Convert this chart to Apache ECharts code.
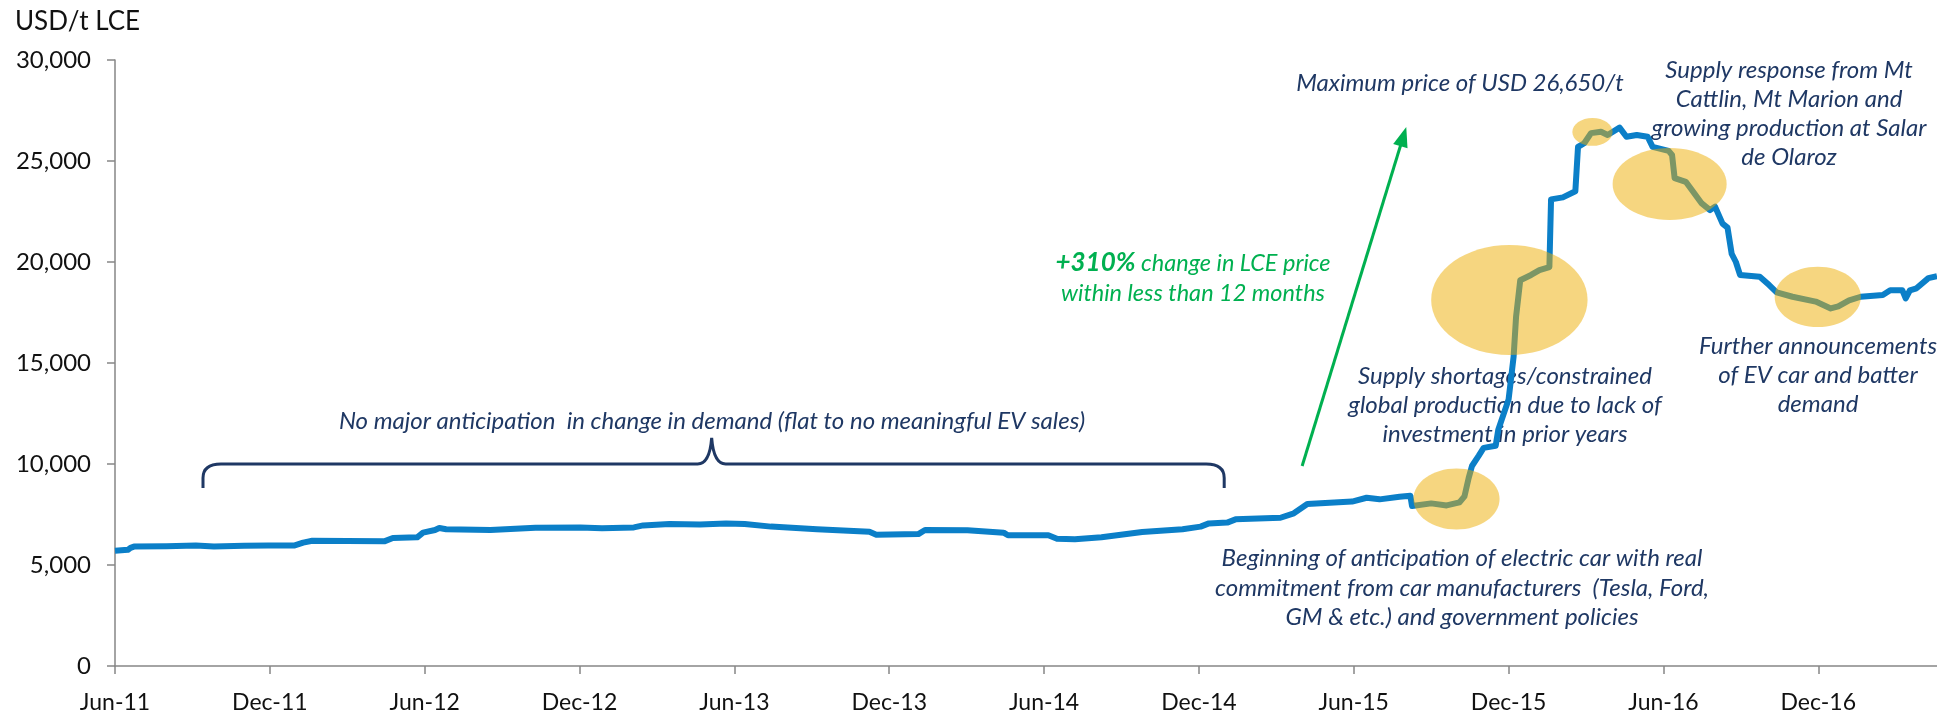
<!DOCTYPE html>
<html>
<head>
<meta charset="utf-8">
<script src="https://cdn.jsdelivr.net/npm/echarts@6/dist/echarts.min.js"></script>
<style>
html,body{margin:0;padding:0;background:#fff;}
#chart{width:1937px;height:711px;}
</style>
</head>
<body>
<div id="chart"></div>
<script>
// ---- Data ----
const dates = [
  '2011-06-01','2011-06-16','2011-06-19','2011-06-23','2011-08-01','2011-09-05','2011-09-26','2011-11-01','2011-11-29','2011-12-30',
  '2012-01-10','2012-01-21','2012-03-01','2012-04-14','2012-04-24','2012-05-23','2012-05-30','2012-06-13','2012-06-18','2012-06-26',
  '2012-08-18','2012-10-10','2012-12-02','2012-12-28','2013-02-04','2013-02-14','2013-03-16','2013-04-21','2013-05-22','2013-06-13',
  '2013-07-14','2013-09-07','2013-11-08','2013-11-16','2014-01-05','2014-01-13','2014-03-02','2014-04-14','2014-04-19','2014-06-06',
  '2014-06-16','2014-07-07','2014-08-08','2014-09-25','2014-11-12','2014-12-03','2014-12-13','2015-01-04','2015-01-14','2015-03-06',
  '2015-03-22','2015-04-07','2015-05-30','2015-06-16','2015-07-01','2015-07-25','2015-08-07','2015-08-09','2015-09-01','2015-09-19',
  '2015-10-04','2015-10-10','2015-10-15','2015-10-19','2015-10-27','2015-11-02','2015-11-16','2015-11-19','2015-12-01','2015-12-07',
  '2015-12-10','2015-12-15','2015-12-28','2016-01-07','2016-01-19','2016-01-21','2016-02-04','2016-02-18','2016-02-21','2016-02-28',
  '2016-03-07','2016-03-19','2016-03-27','2016-04-10','2016-04-18','2016-04-30','2016-05-13','2016-05-19','2016-06-07','2016-06-11',
  '2016-06-14','2016-06-27','2016-07-07','2016-07-16','2016-07-26','2016-08-01','2016-08-10','2016-08-16','2016-08-21','2016-08-26',
  '2016-08-31','2016-09-23','2016-10-04','2016-10-13','2016-11-01','2016-11-28','2016-12-16','2016-12-25','2017-01-07','2017-01-21',
  '2017-02-15','2017-02-23','2017-03-09','2017-03-13','2017-03-18','2017-03-26','2017-04-09','2017-04-19'
];
const prices = [
  5700,5750,5850,5910,5930,5970,5920,5950,5960,5960,
  6110,6200,6190,6170,6340,6370,6600,6730,6830,6770,
  6730,6850,6860,6820,6860,6960,7030,7000,7060,7030,
  6900,6770,6650,6500,6530,6730,6720,6600,6470,6470,
  6300,6270,6370,6630,6770,6900,7060,7100,7260,7340,
  7560,8020,8140,8330,8250,8380,8430,7920,8050,7950,
  8100,8400,9300,9900,10400,10800,10900,11700,13200,15300,
  17300,19100,19360,19600,19750,23100,23200,23500,25700,25880,
  26380,26450,26290,26650,26200,26290,26200,25700,25500,25300,
  24150,23970,23400,22900,22570,22740,21900,21700,20400,20000,
  19360,19270,18860,18500,18280,18040,17700,17800,18100,18280,
  18370,18600,18600,18200,18600,18700,19200,19300
];
const xTickLabels = ['Jun-11','Dec-11','Jun-12','Dec-12','Jun-13','Dec-13','Jun-14','Dec-14','Jun-15','Dec-15','Jun-16','Dec-16'];
const yTicks = [0,5000,10000,15000,20000,25000,30000];

// ---- helpers ----
function toMonths(s){
  const p = s.split('-').map(Number);
  const dim = new Date(p[0], p[1], 0).getDate();
  return (p[0]-2011)*12 + (p[1]-6) + (p[2]-1)/dim;
}
const lineData = dates.map((d,i)=>[toMonths(d), prices[i]]);

// highlight ellipses: [centreMonth, centreValue, radiusMonths, radiusValue]
const highlights = [
  [51.98, 8270, 1.67, 1510],
  [54.03, 18120, 3.03, 2720],
  [57.25, 26440, 0.78, 690],
  [60.24, 23860, 2.21, 1780],
  [65.98, 18270, 1.67, 1490]
];

const NAVY = '#1F3864';
const GREEN = '#00B050';
const FONT = 'Lato';
const ANN = `italic 24px ${FONT}`;

const chart = echarts.init(document.getElementById('chart'), null, {renderer:'canvas'});
const option = {
  backgroundColor:'#fff',
  animation:false,
  grid:{left:115, right:0, top:60, bottom:45, containLabel:false, outerBoundsMode:'none'},
  xAxis:{
    type:'value', min:0, max:70.6, interval:6,
    splitLine:{show:false},
    axisLine:{show:true, lineStyle:{color:'#868686', width:1.5}},
    axisTick:{show:true, length:8, lineStyle:{color:'#868686', width:1.5}},
    axisLabel:{
      margin:25, color:'#111', fontFamily:FONT, fontSize:23, showMaxLabel:false,
      formatter:v=>{const i=Math.round(v/6); return (Math.abs(v-i*6)<1e-6 && xTickLabels[i])?xTickLabels[i]:'';}
    }
  },
  yAxis:{
    type:'value', min:yTicks[0], max:yTicks[yTicks.length-1], interval:yTicks[1]-yTicks[0],
    splitLine:{show:false},
    axisLine:{show:true, lineStyle:{color:'#868686', width:1.5}},
    axisTick:{show:true, length:8, lineStyle:{color:'#868686', width:1.5}},
    axisLabel:{margin:24, color:'#111', fontFamily:FONT, fontSize:24,
      formatter:v=>v.toLocaleString('en-US')}
  },
  series:[
    {
      type:'line', data:lineData, showSymbol:false, z:2,
      lineStyle:{color:'#0B7FC8', width:6, join:'round'},
      markLine:{
        silent:true, symbol:['none','triangle'], symbolSize:[15,20],
        lineStyle:{color:GREEN, width:3, type:'solid'},
        label:{show:false},
        data:[[{coord:[46.0, 9900]},{coord:[49.92, 26210]}]]
      }
    },
    {
      type:'custom', z:5, data:highlights, encode:{x:0,y:1},
      renderItem:(params, api)=>{
        const c = api.coord([api.value(0), api.value(1)]);
        const s = api.size([api.value(2), api.value(3)]);
        return {type:'ellipse', shape:{cx:c[0], cy:c[1], rx:s[0], ry:s[1]},
          style:{fill:'rgba(237,173,1,0.5)'}};
      }
    },
    {
      type:'custom', z:4, data:[[3.41, 23.12, 42.98]], encode:{x:0},
      renderItem:(params, api)=>{
        const L = api.coord([api.value(0), 10000]);
        const M = api.coord([api.value(1), 10000]);
        const R = api.coord([api.value(2), 10000]);
        const endY = api.coord([api.value(0), 8810])[1];
        const pkY = api.coord([api.value(1), 11290])[1];
        const d = `M${L[0]},${endY} L${L[0]},${L[1]+14} Q${L[0]},${L[1]} ${L[0]+18},${L[1]} `+
          `L${M[0]-14},${M[1]} Q${M[0]-2},${M[1]} ${M[0]},${pkY} Q${M[0]+2},${M[1]} ${M[0]+14},${M[1]} `+
          `L${R[0]-18},${R[1]} Q${R[0]},${R[1]} ${R[0]},${R[1]+14} L${R[0]},${endY}`;
        return {type:'path', shape:{pathData:d}, style:{fill:'none', stroke:NAVY, lineWidth:3}};
      }
    }
  ],
  graphic:[
    {type:'text', x:15, y:22, style:{text:'USD/t LCE', font:`26px ${FONT}`, fill:'#111', verticalAlign:'middle'}},
    {type:'text', x:712, y:421, style:{text:'No major anticipation  in change in demand (flat to no meaningful EV sales)',
      font:ANN, fill:NAVY, align:'center', verticalAlign:'middle'}},
    {type:'text', x:1460, y:83, style:{text:'Maximum price of USD 26,650/t',
      font:ANN, fill:NAVY, align:'center', verticalAlign:'middle'}},
    {type:'text', x:1789, y:114, style:{text:'Supply response from Mt\nCattlin, Mt Marion and\ngrowing production at Salar\nde Olaroz',
      font:ANN, fill:NAVY, align:'center', verticalAlign:'middle', lineHeight:29}},
    {type:'text', x:1505, y:405, style:{text:'Supply shortages/constrained\nglobal production due to lack of\ninvestment in prior years',
      font:ANN, fill:NAVY, align:'center', verticalAlign:'middle', lineHeight:29}},
    {type:'text', x:1818, y:375, style:{text:'Further announcements\nof EV car and batter\ndemand',
      font:ANN, fill:NAVY, align:'center', verticalAlign:'middle', lineHeight:29}},
    {type:'text', x:1462, y:588, style:{text:'Beginning of anticipation of electric car with real\ncommitment from car manufacturers  (Tesla, Ford,\nGM & etc.) and government policies',
      font:ANN, fill:NAVY, align:'center', verticalAlign:'middle', lineHeight:29.5}},
    {type:'text', x:1193, y:278, style:{text:'{b|+310%} change in LCE price\nwithin less than 12 months',
      font:`italic 23.5px ${FONT}`, fill:GREEN, align:'center', verticalAlign:'middle', lineHeight:30,
      rich:{b:{font:`italic bold 26px ${FONT}`, fill:GREEN, lineHeight:30}}}}
  ]
};
chart.setOption(option);
</script>
</body>
</html>
